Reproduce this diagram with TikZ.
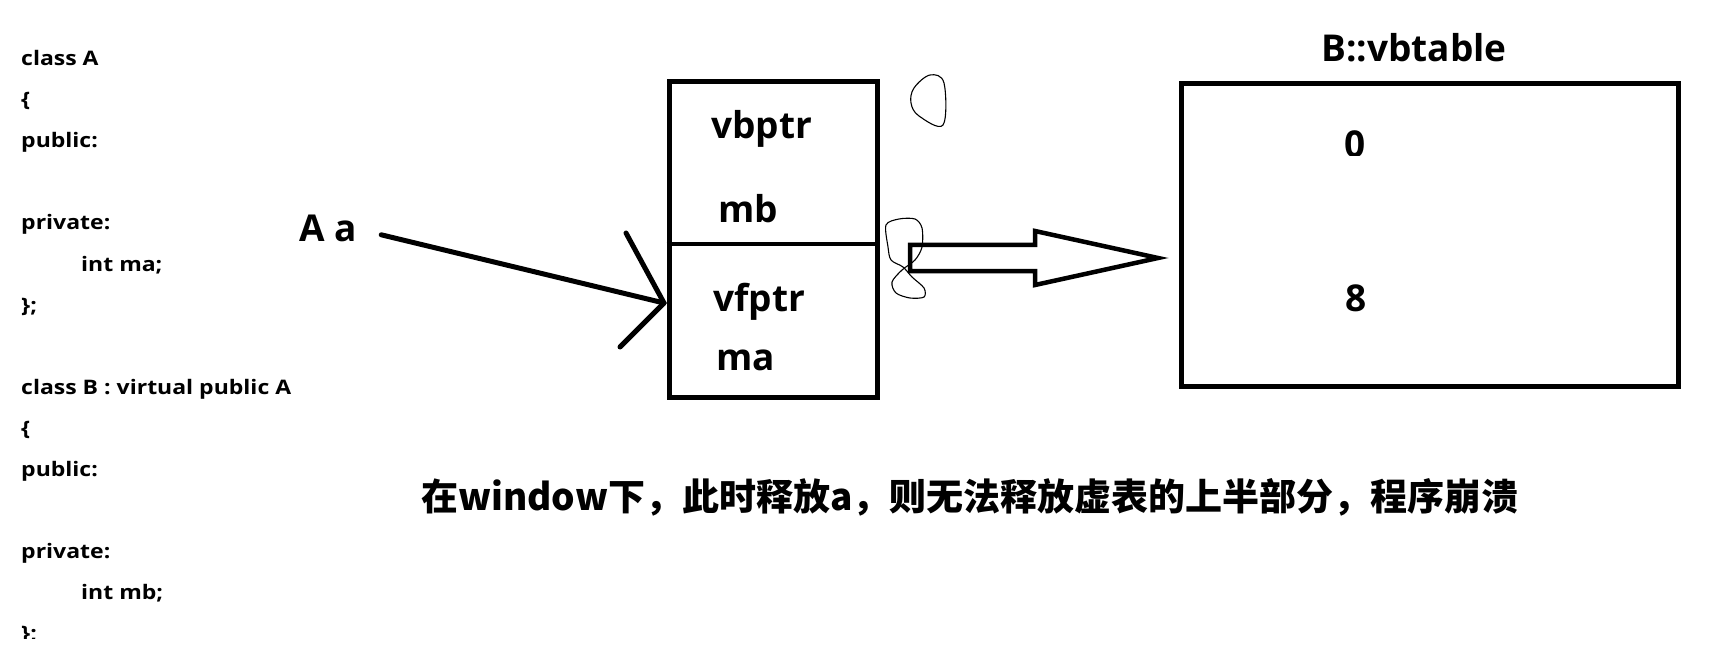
\documentclass[tikz,border=0pt]{standalone}
\usepackage{fontspec}
\setmainfont{Open Sans}
\newfontfamily\codefont{Open Sans}[FakeStretch=1.15]
\newfontfamily\cjk{Noto Sans CJK SC}
\usetikzlibrary{calc}

\tikzset{
  code line/.style={anchor=base west,inner sep=0pt,font=\codefont\bfseries\fontsize{20}{24}\selectfont},
  big label/.style={inner sep=0pt,font=\bfseries\fontsize{37}{44}\selectfont},
  mem box/.style={draw,line width=5pt,minimum width=208pt,minimum height=315pt},
  table box/.style={draw,line width=5pt,minimum width=497pt,minimum height=302pt},
  pointer/.style={line width=5pt,line cap=round},
  hollow arrow/.style={draw,line width=4.5pt,fill=white},
  scribble/.style={line width=1.1pt}
}

\begin{document}
\begin{tikzpicture}[x=1pt,y=-1pt]
\useasboundingbox (0,0) rectangle (1728,660);

% the two classes
\begin{scope}
\clip (0,0) rectangle (600,638);
\foreach \n/\x/\t in {0/21/class A,1/21/\{,2/21/public:,4/21/private:,5/81/int ma;,6/21/\};,
  8/21/class B : virtual public A,9/21/\{,10/21/public:,12/21/private:,13/81/int mb;,14/21/\};}{
  \node[code line] (code\n) at (\x,66+41*\n) {\t};
}
\end{scope}

% object a
\node[big label,anchor=base west] (Aa) at (299,242) {A a};
\node[mem box] (mem) at (773,239.5) {};
\coordinate (divy) at (0,244);
\draw[line width=4pt] (mem.west |- divy) -- (mem.east |- divy);
\node[big label,anchor=base west] (vbptr) at (711,139) {vbptr};
\node[big label,anchor=base west] (mb) at (718,223) {mb};
\node[big label,anchor=base west] (vfptr) at (713,311) {vfptr};
\node[big label,anchor=base west] (ma) at (716,370) {ma};

\coordinate (tip) at (664,303);
\draw[pointer,shorten <=25pt] (Aa.east) -- (tip);
\draw[pointer] (tip) -- ++(-38,-70);
\draw[pointer] (tip) -- ++(-44,44);

% vbtable
\node[big label,anchor=base] (title) at (1414,62) {B::vbtable};
\node[table box] (vbtab) at (1429.5,235) {};
\begin{scope}
\clip (1300,100) rectangle (1400,156);
\node[big label,anchor=base] (off0) at (1355,158) {0};
\end{scope}
\node[big label,anchor=base] (off8) at (1356,311) {8};

\coordinate (shaft) at (910,258);
\draw[hollow arrow] (shaft) ++(0,-13) -- ++(125,0) -- ++(0,-14) -- ++(123,27)
  -- ++(-123,27) -- ++(0,-14) -- ++(-125,0) -- cycle;

% hand marks
\draw[scribble] plot[smooth cycle,tension=0.6] coordinates {(943,125) (944,83) (930,75) (914,88) (911,103) (919,116)};
\draw[scribble] plot[smooth cycle,tension=0.5] coordinates {(886,225) (899,219) (915,219) (922,228) (922,247)
  (915,260) (902,270) (892,282) (896,293) (910,298) (924,297) (924,288) (912,277) (903,267) (891,260) (888,247)};

% note
\node[inner sep=0pt,anchor=base,font=\cjk\bfseries\fontsize{37}{44}\selectfont] (note) at (970,510)
  {在window下，此时释放a，则无法释放虚表的上半部分，程序崩溃};
\end{tikzpicture}
\end{document}
